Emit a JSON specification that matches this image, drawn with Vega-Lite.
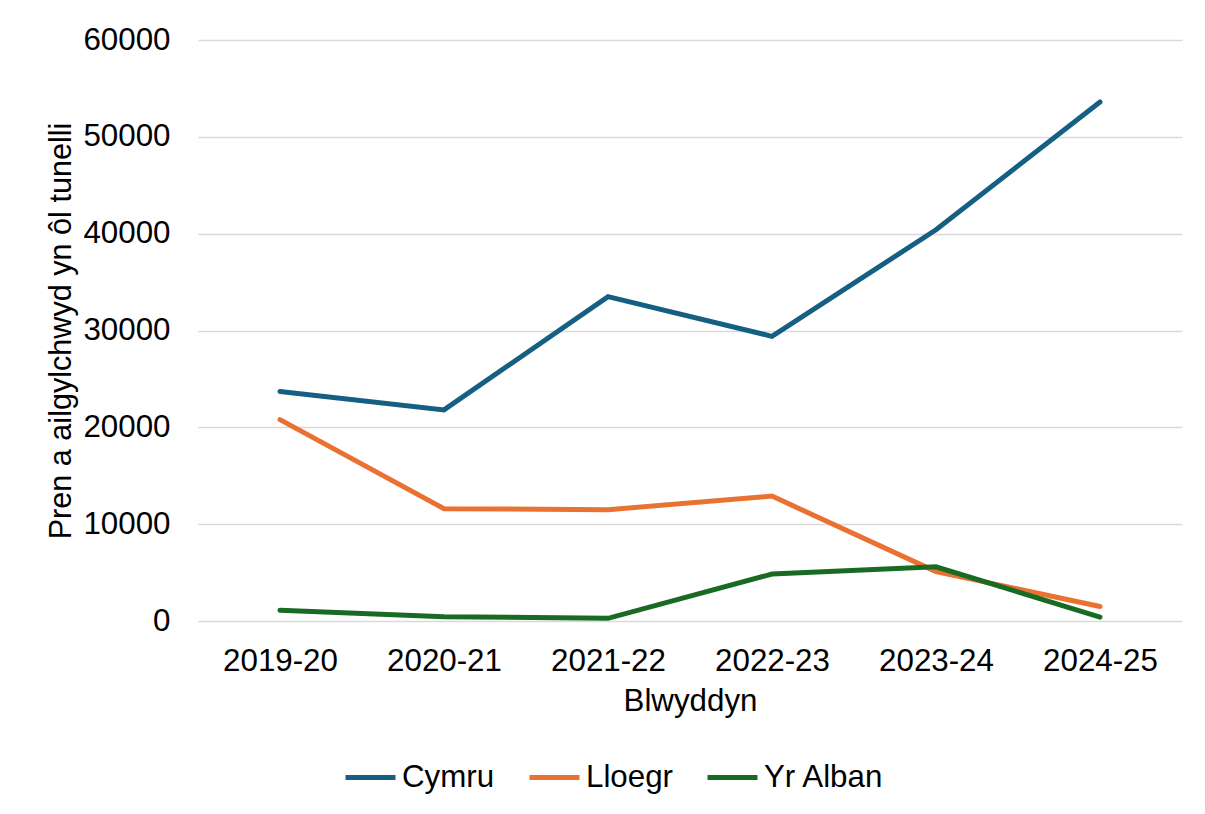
{
  "$schema": "https://vega.github.io/schema/vega-lite/v6.json",
  "autosize": "none",
  "width": 984,
  "height": 581,
  "padding": {"left": 198, "top": 40, "right": 23, "bottom": 193},
  "background": "white",
  "data": {
    "values": [
      {"year": "2019-20", "country": "Cymru", "value": 23700},
      {"year": "2020-21", "country": "Cymru", "value": 21800},
      {"year": "2021-22", "country": "Cymru", "value": 33500},
      {"year": "2022-23", "country": "Cymru", "value": 29400},
      {"year": "2023-24", "country": "Cymru", "value": 40400},
      {"year": "2024-25", "country": "Cymru", "value": 53600},
      {"year": "2019-20", "country": "Lloegr", "value": 20800},
      {"year": "2020-21", "country": "Lloegr", "value": 11600},
      {"year": "2021-22", "country": "Lloegr", "value": 11500},
      {"year": "2022-23", "country": "Lloegr", "value": 12900},
      {"year": "2023-24", "country": "Lloegr", "value": 5100},
      {"year": "2024-25", "country": "Lloegr", "value": 1500},
      {"year": "2019-20", "country": "Yr Alban", "value": 1100},
      {"year": "2020-21", "country": "Yr Alban", "value": 450},
      {"year": "2021-22", "country": "Yr Alban", "value": 280},
      {"year": "2022-23", "country": "Yr Alban", "value": 4850},
      {"year": "2023-24", "country": "Yr Alban", "value": 5600},
      {"year": "2024-25", "country": "Yr Alban", "value": 400}
    ]
  },
  "mark": {"type": "line", "strokeWidth": 5, "strokeCap": "round", "strokeJoin": "miter"},
  "encoding": {
    "x": {
      "field": "year",
      "type": "ordinal",
      "scale": {"type": "point", "padding": 0.5},
      "axis": {
        "title": "Blwyddyn",
        "labelAngle": 0,
        "labelPadding": 24,
        "titlePadding": 9,
        "ticks": false,
        "domain": false,
        "grid": false
      }
    },
    "y": {
      "field": "value",
      "type": "quantitative",
      "scale": {"domain": [0, 60000], "nice": false},
      "axis": {
        "title": "Pren a ailgylchwyd yn ôl tunelli",
        "titleFontSize": 30.6,
        "values": [0, 10000, 20000, 30000, 40000, 50000, 60000],
        "format": "d",
        "labelPadding": 28,
        "titlePadding": 6,
        "ticks": false,
        "domain": false,
        "grid": true,
        "gridColor": "#d9d9d9",
        "gridWidth": 1.3
      }
    },
    "color": {
      "field": "country",
      "type": "nominal",
      "scale": {"domain": ["Cymru", "Lloegr", "Yr Alban"], "range": ["#156082", "#E97132", "#196B24"]},
      "legend": {
        "title": null,
        "orient": "none",
        "direction": "horizontal",
        "legendX": 145,
        "legendY": 710,
        "symbolType": "stroke",
        "symbolSize": 2500,
        "symbolStrokeWidth": 5,
        "labelOffset": 4,
        "columnPadding": 24,
        "padding": 0
      }
    }
  },
  "config": {
    "font": "Liberation Sans",
    "view": {"stroke": null},
    "axis": {
      "labelFont": "Liberation Sans",
      "labelFontSize": 31.3,
      "labelColor": "#000000",
      "titleFont": "Liberation Sans",
      "titleFontSize": 31.3,
      "titleFontWeight": "normal",
      "titleColor": "#000000"
    },
    "legend": {
      "labelFont": "Liberation Sans",
      "labelFontSize": 31.3,
      "labelColor": "#000000"
    }
  }
}
